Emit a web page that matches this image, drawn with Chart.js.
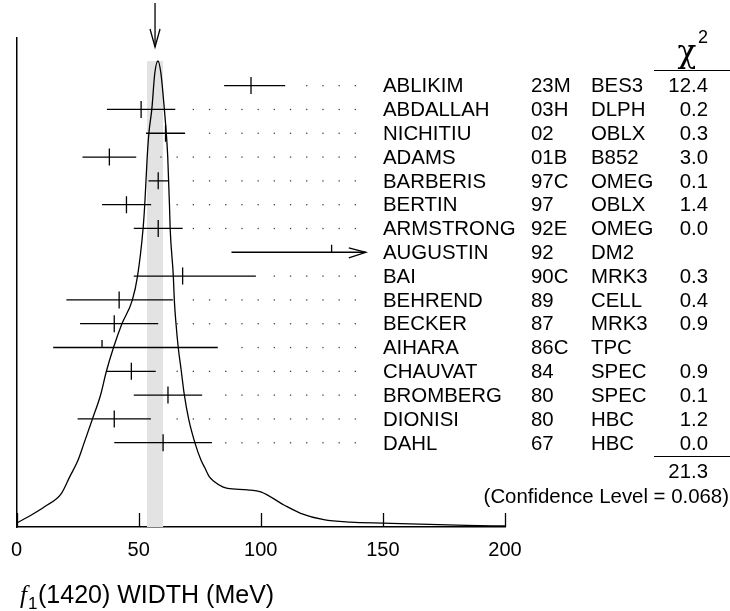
<!DOCTYPE html>
<html>
<head>
<meta charset="utf-8">
<script src="https://cdn.jsdelivr.net/npm/chart.js@4.4.1/dist/chart.umd.min.js"></script>
<style>
  html, body { margin: 0; padding: 0; background: #fff; }
  #wrap { position: relative; width: 730px; height: 611px; }
</style>
</head>
<body>
<div id="wrap"><canvas id="ideogram" width="730" height="611"></canvas></div>
<script>
/*
 * f1(1420) width — ideogram
 */

var names  = ['ABLIKIM', 'ABDALLAH', 'NICHITIU', 'ADAMS', 'BARBERIS', 'BERTIN', 'ARMSTRONG', 'AUGUSTIN',
              'BAI', 'BEHREND', 'BECKER', 'AIHARA', 'CHAUVAT', 'BROMBERG', 'DIONISI', 'DAHL'];
var years  = ['23M', '03H', '02', '01B', '97C', '97', '92E', '92', '90C', '89', '87', '86C', '84', '80', '80', '67'];
var techs  = ['BES3', 'DLPH', 'OBLX', 'B852', 'OMEG', 'OBLX', 'OMEG', 'DM2', 'MRK3', 'CELL', 'MRK3', 'TPC',
              'SPEC', 'SPEC', 'HBC', 'HBC'];
var chi2   = ['12.4', '0.2', '0.3', '3.0', '0.1', '1.4', '0.0', '', '0.3', '0.4', '0.9', '', '0.9', '0.1', '1.2', '0.0'];

// measured width (MeV) and the ends of its error bar
var widths  = [96, 51, 61, 38, 58, 45, 58, 129, 68, 42, 40, 35, 47, 62, 40, 60];
var errLow  = [85, 37, 53, 27, 54, 35, 48, 88, 48, 20.4, 26, 15, 37, 48, 25, 40];
var errHigh = [110, 65, 69, 49, 62, 55.1, 68, 143, 98, 64, 58, 82.4, 57, 76, 55, 80];
var arrowed = [false, false, false, false, false, false, false, true, false, false, false, false, false, false, false, false];

// weighted average and its error
var avgWidth = 56.7;
var avgError = 3.3;
var chi2Total = '21.3';
var confLevel = '0.068';

// ideogram curve (height in % of frame)
var curveX = [0, 4.8, 11.6, 18.4, 21.8, 25.2, 27.6, 31.0, 34.4, 36.7, 39.7, 43.1, 47.4, 49.5, 51.8, 52.5, 53.5, 54.2,
              55.4, 56.6, 57.9, 59.1, 60.5, 61.3, 61.9, 62.6, 62.9, 64.2, 64.6, 65.3, 66.2, 67.4, 68.7, 70.5, 73.1,
              75.5, 77.1, 78.9, 80.9, 84.4, 86.4, 94.6, 100, 109.5, 116.3, 125.8, 136.7, 150.3, 184.4, 200];
var curveY = [0.8, 2.1, 4.2, 6.9, 10.3, 13.7, 17.1, 22.0, 27.0, 31.7, 36.7, 41.5, 46.4, 51.2, 61.0, 66.0, 75.7, 80.6,
              85.5, 92.8, 95.3, 92.8, 85.5, 80.6, 75.7, 66.0, 61.0, 51.2, 46.4, 41.5, 36.7, 32.1, 27.0, 22.0, 17.1,
              13.7, 12.1, 10.3, 9.3, 8.2, 7.9, 7.6, 7.2, 4.5, 2.8, 1.5, 1.0, 0.8, 0.35, 0.2];

var xMin = 0, xMax = 200, xStep = 50;

// leader dots sit on a fixed grid (MeV)
var dotStart = 72.37, dotStep = 6.633, dotEnd = 145.3;

var INK = '#000';
var SANS = '"Liberation Sans", Arial, Helvetica, sans-serif';

var datasets = [];
datasets.push({
  type: 'line',
  data: curveX.map(function(v, i) { return { x: v, y: curveY[i] }; }),
  yAxisID: 'yCurve',
  borderColor: INK, borderWidth: 1.3, pointRadius: 0, fill: false,
  cubicInterpolationMode: 'monotone'
});
names.forEach(function(n, i) {
  datasets.push({
    type: 'line',
    data: [{ x: errLow[i], y: i }, { x: errHigh[i], y: i }],
    yAxisID: 'yRow',
    borderColor: INK, borderWidth: 1.3, pointRadius: 0, fill: false
  });
});
// centre ticks (full ones only for results used in the average)
datasets.push({
  type: 'scatter',
  data: widths.map(function(w, i) { return chi2[i] !== '' ? { x: w, y: i } : null; }).filter(Boolean),
  yAxisID: 'yRow',
  pointStyle: 'line', pointRotation: 90, pointRadius: 8.5,
  pointBorderColor: INK, pointBorderWidth: 1.3
});

var ideogramPlugin = {
  id: 'ideogram',
  beforeDatasetsDraw: function(chart) {
    var ctx = chart.ctx, x = chart.scales.x, yc = chart.scales.yCurve;
    var top = yc.getPixelForValue(Math.max.apply(null, curveY));
    var l = x.getPixelForValue(avgWidth - avgError), r = x.getPixelForValue(avgWidth + avgError);
    ctx.save();
    ctx.fillStyle = '#e3e3e3';
    ctx.fillRect(l, top, r - l, yc.bottom - top);
    ctx.restore();
  },
  afterDatasetsDraw: function(chart) {
    var ctx = chart.ctx, x = chart.scales.x, yr = chart.scales.yRow;
    ctx.save();
    ctx.strokeStyle = INK; ctx.lineWidth = 1.3;
    names.forEach(function(n, i) {
      var py = yr.getPixelForValue(i);
      // leader dots
      ctx.fillStyle = '#444';
      var hiPx = x.getPixelForValue(errHigh[i]);
      for (var k = -10; k <= 20; k++) {
        var v = dotStart + k * dotStep;
        if (v > dotEnd + 0.01) break;
        var px = x.getPixelForValue(v);
        if (px > hiPx + 10.2) ctx.fillRect(px - 0.6, py - 0.6, 1.3, 1.3);
      }
      // half tick for results left out of the fit
      if (chi2[i] === '') {
        var cx = x.getPixelForValue(widths[i]);
        ctx.beginPath(); ctx.moveTo(cx, py); ctx.lineTo(cx, py - 7.5); ctx.stroke();
      }
      // open arrow head
      if (arrowed[i]) {
        ctx.beginPath();
        ctx.moveTo(hiPx - 17, py - 4.5); ctx.lineTo(hiPx, py); ctx.lineTo(hiPx - 17, py + 5.5);
        ctx.stroke();
      }
    });
    ctx.restore();
  },
  afterDraw: function(chart) {
    var ctx = chart.ctx, x = chart.scales.x, yr = chart.scales.yRow;
    var bottom = chart.chartArea.bottom;
    ctx.save();
    ctx.strokeStyle = INK; ctx.lineWidth = 1.3;
    // inward axis ticks
    x.ticks.forEach(function(t) {
      var px = Math.round(x.getPixelForValue(t.value)) + 0.5;
      ctx.beginPath(); ctx.moveTo(px, bottom); ctx.lineTo(px, bottom - 14); ctx.stroke();
    });
    // arrow marking the average
    var ax = x.getPixelForValue(avgWidth);
    ctx.beginPath(); ctx.moveTo(ax, 3); ctx.lineTo(ax, 47); ctx.stroke();
    ctx.beginPath(); ctx.moveTo(ax - 5, 29); ctx.lineTo(ax, 47); ctx.lineTo(ax + 5, 29); ctx.stroke();

    // table text
    ctx.fillStyle = INK;
    ctx.textBaseline = 'alphabetic';
    ctx.font = '20.4px ' + SANS;
    names.forEach(function(n, i) {
      var by = yr.getPixelForValue(i) + 6.8;
      ctx.textAlign = 'left';
      ctx.fillText(n, 383, by);
      ctx.fillText(years[i], 531, by);
      ctx.fillText(techs[i], 591, by);
      ctx.textAlign = 'right';
      if (chi2[i]) ctx.fillText(chi2[i], 708, by);
    });
    ctx.textAlign = 'right';
    ctx.fillText(chi2Total, 708, 478);
    ctx.fillText('(Confidence Level = ' + confLevel + ')', 729, 503);

    // chi2 header and rules
    ctx.textAlign = 'center';
    ctx.font = '31px "DejaVu Serif", serif';
    ctx.fillText('\u03c7', 687, 62);
    ctx.font = '18px ' + SANS;
    ctx.fillText('2', 703, 43);
    ctx.lineWidth = 1.2;
    ctx.beginPath(); ctx.moveTo(654, 70.5); ctx.lineTo(730, 70.5); ctx.stroke();
    ctx.beginPath(); ctx.moveTo(654, 456.5); ctx.lineTo(730, 456.5); ctx.stroke();

    // axis title
    ctx.textAlign = 'left';
    ctx.font = 'italic 25px "Liberation Serif", serif';
    ctx.fillText('f', 20, 603);
    ctx.font = '17px ' + SANS;
    ctx.fillText('1', 28, 609);
    ctx.font = '25px ' + SANS;
    ctx.fillText('(1420) WIDTH (MeV)', 38, 603);
    ctx.restore();
  }
};

new Chart(document.getElementById('ideogram').getContext('2d'), {
  data: { datasets: datasets },
  options: {
    responsive: false, animation: false, events: [],
    layout: { padding: { left: 15, right: 225, top: 38, bottom: 0 } },
    plugins: { legend: { display: false }, tooltip: { enabled: false } },
    scales: {
      x: {
        type: 'linear', min: xMin, max: xMax,
        ticks: { stepSize: xStep, color: '#000', padding: 11, font: { family: SANS, size: 20 } },
        grid: { display: false, drawTicks: false },
        border: { display: true, color: INK, width: 1.5 },
        afterFit: function(s) { s.height = 84; }
      },
      yCurve: {
        type: 'linear', position: 'left', min: 0, max: 100,
        ticks: { display: false }, grid: { display: false, drawTicks: false },
        border: { display: true, color: INK, width: 1.5 },
        afterFit: function(s) { s.width = 0; }
      },
      yRow: {
        type: 'linear', position: 'right', display: false, reverse: true, min: -2.0, max: 18.54
      }
    }
  },
  plugins: [ideogramPlugin]
});
</script>
</body>
</html>
